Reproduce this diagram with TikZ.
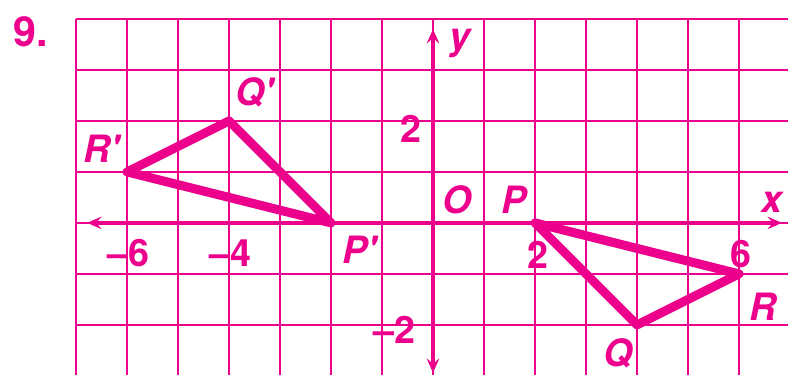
\documentclass[tikz,border=0pt]{standalone}
\usepackage{fontspec}
\setsansfont{TeX Gyre Heros}
\usetikzlibrary{arrows.meta}
\definecolor{hotpink}{RGB}{236,0,140}

\begin{document}
\begin{tikzpicture}[
  lbl/.style={hotpink, inner sep=0pt, font=\fontsize{21}{23}\selectfont\sffamily\bfseries\itshape},
  num/.style={hotpink, inner sep=0pt, font=\fontsize{21}{23}\selectfont\sffamily\bfseries},
  tri/.style={hotpink, line width=5pt, line join=round, line cap=round}]
  \useasboundingbox (-8.49,-2.98) rectangle (6.96,4.37);
  % Grid
  \begin{scope}
    \clip (-8.49,-2.98) rectangle (6.96,4.37);
    \draw[hotpink, line width=1.1pt] (-7,-3.5) grid (7.5,4);
  \end{scope}
  % Axes
  \coordinate (xl) at (-6.78,0);
  \coordinate (xr) at (6.84,0);
  \coordinate (yb) at (0,-2.94);
  \coordinate (yt) at (0,3.8);
  \draw[hotpink, line width=1.8pt, {Stealth[length=8pt,width=7pt,inset=3pt]}-{Stealth[length=8pt,width=7pt,inset=3pt]}] (xl) -- (xr);
  \draw[hotpink, line width=1.8pt, {Stealth[length=8pt,width=7pt,inset=3pt]}-{Stealth[length=8pt,width=7pt,inset=3pt]}] (yb) -- (yt);
  % Triangle PQR
  \coordinate (P) at (2,0);
  \coordinate (Q) at (4,-2);
  \coordinate (R) at (6,-1);
  \draw[tri] (P) -- (Q) -- (R) -- cycle;
  % Image P'Q'R'
  \coordinate (P1) at (-2,0);
  \coordinate (Q1) at (-4,2);
  \coordinate (R1) at (-6,1);
  \draw[tri] (P1) -- (Q1) -- (R1) -- cycle;
  % Labels
  \node[num, font=\fontsize{23}{25}\selectfont\sffamily\bfseries] (nine) at (-7.88,3.75) {9.};
  \node[lbl] (labx) at (6.65,0.41) {x};
  \node[lbl] (laby) at (0.53,3.52) {y};
  \node[lbl] (labO) at (0.47,0.45) {O};
  \node[lbl] (labP) at (1.59,0.45) {P};
  \node[lbl] (labQ) at (3.63,-2.55) {Q};
  \node[lbl] (labR) at (6.48,-1.65) {R};
  \node[lbl] (labP1) at (-1.45,-0.53) {P\textquotesingle};
  \node[lbl] (labQ1) at (-3.5,2.55) {Q\textquotesingle};
  \node[lbl] (labR1) at (-6.5,1.45) {R\textquotesingle};
  \node[num] (xm6) at (-5.98,-0.6) {\textendash6};
  \node[num] (xm4) at (-3.98,-0.6) {\textendash4};
  \node[num] (x2) at (2.05,-0.62) {2};
  \node[num] (x6) at (6.04,-0.62) {6};
  \node[num] (y2) at (-0.43,1.84) {2};
  \node[num] (ym2) at (-0.76,-2.1) {\textendash2};
\end{tikzpicture}
\end{document}
